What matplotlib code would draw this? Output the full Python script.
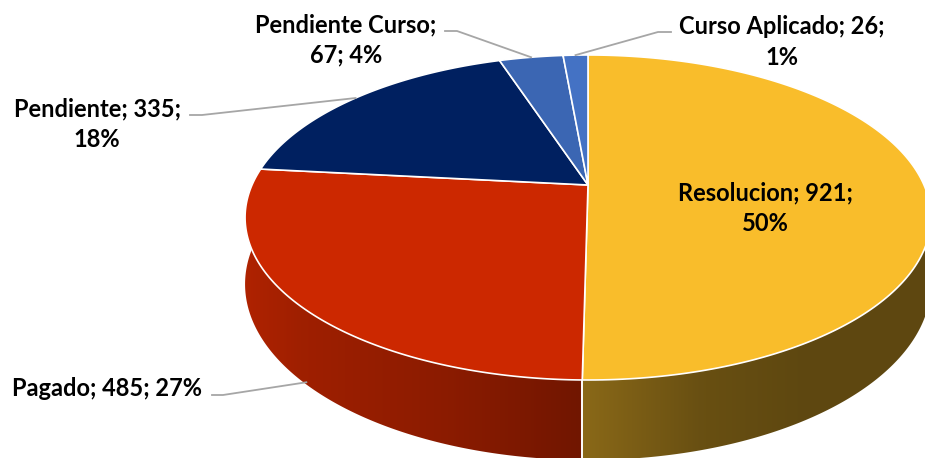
import numpy as np
import matplotlib
matplotlib.use("Agg")
import matplotlib.pyplot as plt
from matplotlib.patches import Polygon
from matplotlib.colors import to_rgb

# datos del grafico
categorias = ["Resolucion", "Pagado", "Pendiente", "Pendiente Curso", "Curso Aplicado"]
valores = [921, 485, 335, 67, 26]
colores = ["#F9BD2B", "#CC2800", "#002060", "#3B66B3", "#4472C4"]

plt.rcParams["font.family"] = ["Lato", "DejaVu Sans"]

# geometria del pastel 3D (pixeles)
cx, cy = 588, 185
A, B = 336, 156
k = 0.2          # perspectiva
prof = 64        # profundidad del costado


def punto(phi):
    u = np.sin(phi)
    v = -np.cos(phi)
    d = 1 - k * v
    return cx + A * u / d, cy + B * v / d, d


def sombra(x):
    return np.interp(x, [230, 300, 450, 585, 700, 800], [0.88, 0.78, 0.68, 0.55, 0.42, 0.38])


def porcentajes(vals):
    # redondeo que suma 100, como en Excel
    p = np.array(vals) / sum(vals) * 100
    ent = np.floor(p).astype(int)
    resto = 100 - ent.sum()
    for j in np.argsort(-(p - ent))[:resto]:
        ent[j] += 1
    return [f"{e}%" for e in ent]


fig = plt.figure(figsize=(9.25, 4.58), dpi=100)
ax = fig.add_axes([0, 0, 1, 1])
ax.set_xlim(0, 925)
ax.set_ylim(458, 0)
ax.axis("off")

total = sum(valores)
fracs = np.array(valores) / total
limites = np.concatenate([[0], np.cumsum(fracs)]) * 2 * np.pi

# costados (solo la mitad frontal)
xs = np.arange(925)
for i, col in enumerate(colores):
    a0 = max(limites[i], np.pi / 2)
    a1 = min(limites[i + 1], 3 * np.pi / 2)
    if a1 <= a0:
        continue
    t = np.linspace(a0, a1, 200)
    x, y, d = punto(t)
    yb = y + prof / d
    pts = np.concatenate([np.column_stack([x, y]), np.column_stack([x[::-1], yb[::-1]])])
    poly = Polygon(pts, closed=True, facecolor="none", edgecolor="none")
    ax.add_patch(poly)
    base = np.array(to_rgb(col))
    img = np.clip(sombra(xs)[:, None] * base[None, :], 0, 1)[None, :, :]
    im = ax.imshow(img, extent=(0, 925, 458, 0), aspect="auto", zorder=1, interpolation="bilinear")
    im.set_clip_path(poly)
    # linea blanca separando costados
    for a in (a0, a1):
        if np.pi / 2 < a < 3 * np.pi / 2:
            xe, ye, de = punto(a)
            ax.plot([xe, xe], [ye, ye + prof / de], color="white", lw=1.2, zorder=2)

# cara superior
for i, col in enumerate(colores):
    t = np.linspace(limites[i], limites[i + 1], 200)
    x, y, _ = punto(t)
    pts = np.concatenate([[[cx, cy]], np.column_stack([x, y])])
    ax.add_patch(Polygon(pts, closed=True, facecolor=col, edgecolor="white", lw=1.2, zorder=3))

# etiquetas
medios = (limites[:-1] + limites[1:]) / 2
pct = porcentajes(valores)
fuente = dict(fontsize=17, fontweight="bold", color="black", ha="center", va="center",
              linespacing=1.4, zorder=5)
gris = "#A6A6A6"

ax.text(765, 208, f"{categorias[0]}; {valores[0]};\n{pct[0]}", **fuente)

# Pagado: apunta al costado
xm, ym, dm = punto(medios[1])
ax.plot([212, 223, xm + 8], [395, 395, ym + prof / dm + 4], color=gris, lw=1.3, zorder=4)
ax.text(107, 388, f"{categorias[1]}; {valores[1]}; {pct[1]}", **fuente)

xm, ym, _ = punto(medios[2])
ax.plot([190, 202, xm], [115, 115, ym], color=gris, lw=1.3, zorder=4)
ax.text(97, 124, f"{categorias[2]}; {valores[2]};\n{pct[2]}", **fuente)

xm, ym, _ = punto(medios[3])
ax.plot([445, 457, xm], [31, 31, ym], color=gris, lw=1.3, zorder=4)
ax.text(346, 40, f"{categorias[3]};\n{valores[3]}; {pct[3]}", **fuente)

xm, ym, _ = punto(medios[4])
ax.plot([671, 658, xm], [32, 32, ym], color=gris, lw=1.3, zorder=4)
ax.text(782, 42, f"{categorias[4]}; {valores[4]};\n{pct[4]}", **fuente)

fig.savefig("out.png", dpi=100)
